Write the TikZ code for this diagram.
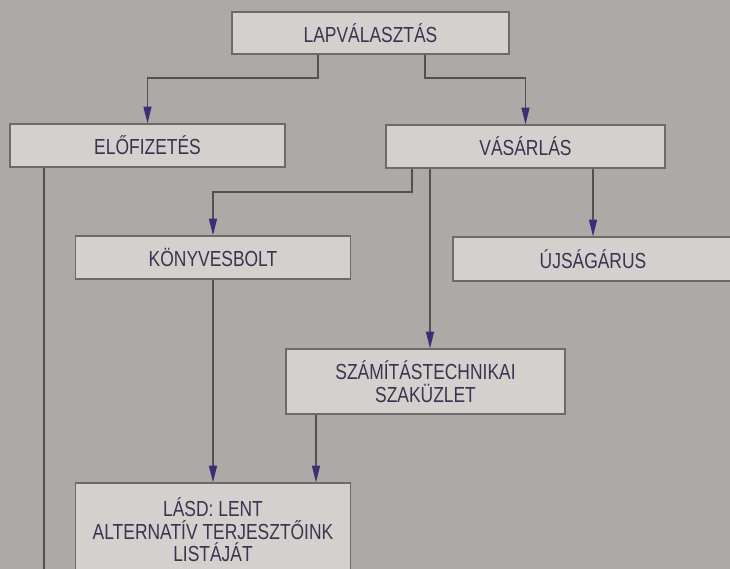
\documentclass[tikz,border=0pt]{standalone}
\usepackage{fontspec}
\setmainfont{Liberation Sans}[FakeStretch=0.8]
\usetikzlibrary{arrows.meta}

\definecolor{bgcol}{HTML}{ACA9A6}
\definecolor{boxcol}{HTML}{D3D0CD}
\definecolor{framecol}{HTML}{6F6A68}
\definecolor{linecol}{HTML}{55504F}
\definecolor{tipcol}{HTML}{3A2E74}
\definecolor{inkcol}{HTML}{3A3450}

\begin{document}
\begin{tikzpicture}[
  x=.025cm,y=-.025cm,
  every node/.style={font=\fontsize{15.5}{16}\selectfont,text=inkcol},
  box/.style={draw=framecol,line width=.9pt,fill=boxcol,inner sep=0pt,align=center},
  size/.style 2 args={minimum width=#1*.025cm,minimum height=#2*.025cm},
  link/.style={draw=linecol,line width=.9pt,-{Triangle[length=4.2mm,width=2mm,color=tipcol]}}
]
\clip (0,0) rectangle (730,569);
\fill[bgcol] (0,0) rectangle (730,569);

% boxes
\node[box,size={277}{42}] (lap) at (370.5,33) {LAPVÁLASZTÁS};
\node[box,size={275}{43}] (elo) at (147.5,145.5) {ELŐFIZETÉS};
\node[box,size={279}{43}] (vas) at (525.5,146.5) {VÁSÁRLÁS};
\node[box,size={275}{43}] (konyv) at (213,257.5) {KÖNYVESBOLT};
\node[box,size={280}{44}] (ujs) at (593,259) {ÚJSÁGÁRUS};
\node[box,size={279}{65}] (szam) at (425.5,381.5) {SZÁMÍTÁSTECHNIKAI\\SZAKÜZLET};
\node[box,size={275}{94}] (lasd) at (213,530) {LÁSD: LENT\\ALTERNATÍV TERJESZTŐINK\\LISTÁJÁT};
\coordinate (eloend) at (44,575);

% connectors
\draw[link] (318,0 |- lap.south) -- (318,78) -| (elo.north);
\draw[link] (425,0 |- lap.south) -- (425,78) -| (vas.north);
\draw[link] (412,0 |- vas.south) -- (412,192) -| (konyv.north);
\draw[link] (430,0 |- vas.south) -- (430,0 |- szam.north);
\draw[link] (vas.south -| ujs.north) -- (ujs.north);
\draw[link] (konyv.south) -- (lasd.north);
\draw[link] (316,0 |- szam.south) -- (316,0 |- lasd.north);
\draw[draw=linecol,line width=.9pt] (44,0 |- elo.south) -- (eloend);
\end{tikzpicture}
\end{document}
